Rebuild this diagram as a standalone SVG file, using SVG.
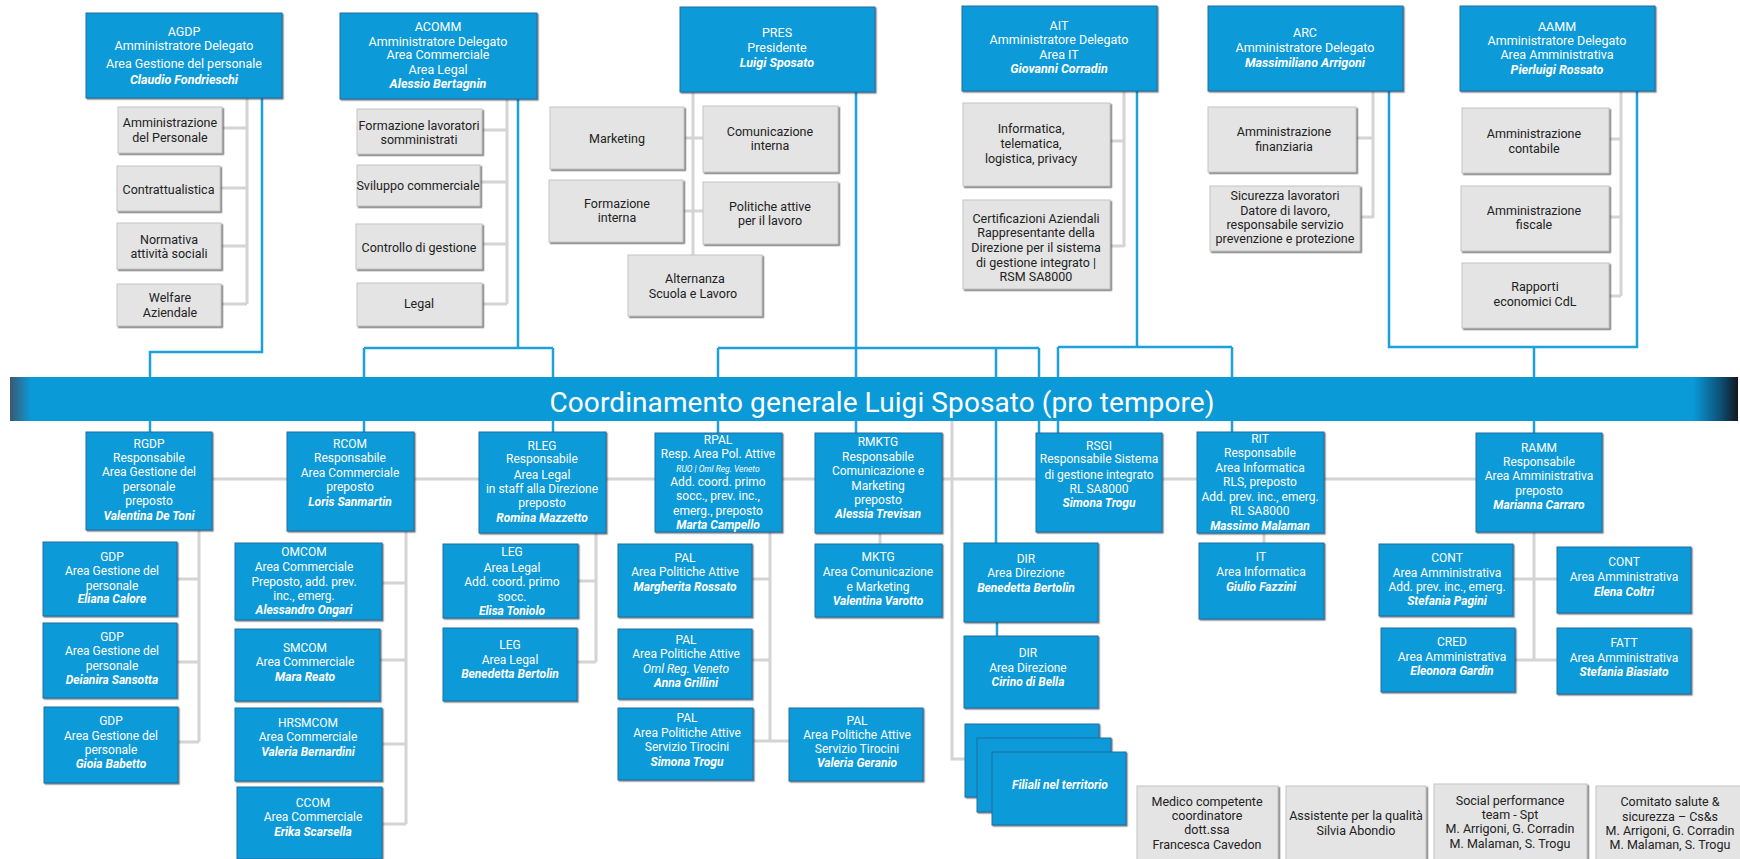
<svg xmlns="http://www.w3.org/2000/svg" width="1740" height="859" viewBox="0 0 1740 859">
<defs>
<linearGradient id="barg" x1="0" y1="0" x2="1" y2="0">
<stop offset="0" stop-color="#3c5870"/>
<stop offset="0.012" stop-color="#0a9ad8"/>
<stop offset="0.974" stop-color="#0a9ad8"/>
<stop offset="0.99" stop-color="#0d4f75"/>
<stop offset="1" stop-color="#111820"/>
</linearGradient>
<filter id="sh" x="-5%" y="-5%" width="115%" height="115%">
<feDropShadow dx="1.2" dy="1.2" stdDeviation="0.6" flood-color="#222" flood-opacity="0.55"/>
</filter>
<filter id="shg" x="-5%" y="-5%" width="115%" height="115%">
<feDropShadow dx="1.5" dy="1.5" stdDeviation="0.5" flood-color="#555" flood-opacity="0.8"/>
</filter>
</defs>
<style>
.b{fill:#0a9ad8;stroke:#1f6d9f;stroke-width:1;filter:url(#sh)}
.g{fill:#e4e4e4;stroke:#c4c4c4;stroke-width:1;filter:url(#shg)}
text{font-family:Roboto,"Liberation Sans",sans-serif;text-anchor:middle}
.tw{fill:#ffffff;font-size:12px}
.tw1{fill:#ffffff;font-size:12.5px}
.tg{fill:#222222;font-size:12.5px}
.n{font-weight:bold;font-style:italic}
.i{font-style:italic}
.sm{font-size:8.5px;font-style:italic}
.cb{fill:none;stroke:#1ea0dc;stroke-width:2.5}
.cg{fill:none;stroke:#d4d4d4;stroke-width:3}
</style>
<rect width="1740" height="859" fill="#ffffff"/>

<g id="connectors">
<path class="cg" d="M247,98V304M222,128H247M220,188H247M221,246H247M221,304H247"/>
<path class="cg" d="M507,99V304M482,130H507M480,182H507M482,244H507M482,304H507"/>
<path class="cg" d="M693,92V255M684,138H703M683,211H703"/>
<path class="cg" d="M1124,91V247M1110,141H1124M1110,246H1124"/>
<path class="cg" d="M1373,91V218M1356,138H1373M1360,217H1373"/>
<path class="cg" d="M1621,91V296M1609,139H1621M1609,217H1621M1609,296H1621"/>
<path class="cg" d="M212,479H1476"/>
<path class="cg" d="M199,530V742M177,579H199M177,662H199M178,742H199"/>
<path class="cg" d="M406,531V824M382,583H406M380,660H406M382,744H406M382,824H406"/>
<path class="cg" d="M596,533V662M578,581H596M577,662H596"/>
<path class="cg" d="M770,532V741M752,579H770M752,660H770M753,741H789"/>
<path class="cg" d="M880,533V544"/>
<path class="cg" d="M952,421V759H965"/>
<path class="cg" d="M1264,533V543"/>
<path class="cg" d="M1534,532V660M1513,579H1557M1515,660H1557"/>
<path class="cb" d="M262,98V352H150V377M150,421V432"/>
<path class="cb" d="M518,99V348M364,348H553M364,348V377M553,348V377M364,421V432M553,421V432"/>
<path class="cb" d="M856,92V377M718,348H1039M718,348V377M996,348V377M1039,348V377M718,421V433M856,421V433M996,421V543M1039,421V433M997,622V636"/>
<path class="cb" d="M1137,91V347M1058,347H1232M1058,347V377M1232,347V377M1058,421V433M1232,421V432"/>
<path class="cb" d="M1389,91V347H1637V91M1534,347V377M1534,421V433"/>
</g>

<g id="bar">
<rect x="10" y="377" width="1728" height="44" fill="url(#barg)"/>
<text x="882" y="412" fill="#ffffff" font-size="28" textLength="665">Coordinamento generale Luigi Sposato (pro tempore)</text>
</g>

<g id="AGDP"><rect class="b" x="86" y="13" width="196" height="85"/>
<text class="tw1"><tspan x="184" y="35.5">AGDP</tspan><tspan x="184" y="49.5">Amministratore Delegato</tspan><tspan x="184" y="67.5">Area Gestione del personale</tspan><tspan x="184" y="83.5" class="n">Claudio Fondrieschi</tspan></text></g>
<g id="ACOMM"><rect class="b" x="340" y="13" width="197" height="86"/>
<text class="tw1"><tspan x="438" y="30.5">ACOMM</tspan><tspan x="438" y="45.5">Amministratore Delegato</tspan><tspan x="438" y="58.5">Area Commerciale</tspan><tspan x="438" y="73.5">Area Legal</tspan><tspan x="438" y="87.5" class="n">Alessio Bertagnin</tspan></text></g>
<g id="PRES"><rect class="b" x="680" y="7" width="195" height="85"/>
<text class="tw1"><tspan x="777" y="36.5">PRES</tspan><tspan x="777" y="51.5">Presidente</tspan><tspan x="777" y="66.5" class="n">Luigi Sposato</tspan></text></g>
<g id="AIT"><rect class="b" x="962" y="6" width="195" height="85"/>
<text class="tw1"><tspan x="1059" y="29.5">AIT</tspan><tspan x="1059" y="43.5">Amministratore Delegato</tspan><tspan x="1059" y="58.5">Area IT</tspan><tspan x="1059" y="72.5" class="n">Giovanni Corradin</tspan></text></g>
<g id="ARC"><rect class="b" x="1208" y="6" width="195" height="85"/>
<text class="tw1"><tspan x="1305" y="36.5">ARC</tspan><tspan x="1305" y="51.5">Amministratore Delegato</tspan><tspan x="1305" y="66.5" class="n">Massimiliano Arrigoni</tspan></text></g>
<g id="AAMM"><rect class="b" x="1460" y="6" width="195" height="85"/>
<text class="tw1"><tspan x="1557" y="30.5">AAMM</tspan><tspan x="1557" y="44.5">Amministratore Delegato</tspan><tspan x="1557" y="58.5">Area Amministrativa</tspan><tspan x="1557" y="73.5" class="n">Pierluigi Rossato</tspan></text></g>

<g id="amm-personale"><rect class="g" x="118" y="107" width="104" height="46"/><text class="tg"><tspan x="170" y="126.5">Amministrazione</tspan><tspan x="170" y="141.5">del Personale</tspan></text></g>
<g id="contrattualistica"><rect class="g" x="117" y="166" width="103" height="45"/><text class="tg"><tspan x="168.5" y="193.5">Contrattualistica</tspan></text></g>
<g id="normativa"><rect class="g" x="117" y="223" width="104" height="46"/><text class="tg"><tspan x="169" y="243.5">Normativa</tspan><tspan x="169" y="257.5">attività sociali</tspan></text></g>
<g id="welfare"><rect class="g" x="117" y="284" width="104" height="42"/><text class="tg"><tspan x="170" y="301.5">Welfare</tspan><tspan x="170" y="316.5">Aziendale</tspan></text></g>

<g id="formazione-lav"><rect class="g" x="357" y="109" width="125" height="45"/><text class="tg"><tspan x="419" y="129.5">Formazione lavoratori</tspan><tspan x="419" y="143.5">somministrati</tspan></text></g>
<g id="sviluppo"><rect class="g" x="357" y="165" width="123" height="41"/><text class="tg"><tspan x="418" y="189.5">Sviluppo commerciale</tspan></text></g>
<g id="controllo"><rect class="g" x="356" y="224" width="126" height="45"/><text class="tg"><tspan x="419" y="251.5">Controllo di gestione</tspan></text></g>
<g id="legal"><rect class="g" x="357" y="283" width="125" height="43"/><text class="tg"><tspan x="419" y="307.5">Legal</tspan></text></g>

<g id="marketing"><rect class="g" x="550" y="107" width="134" height="62"/><text class="tg"><tspan x="617" y="142.5">Marketing</tspan></text></g>
<g id="com-interna"><rect class="g" x="703" y="106" width="135" height="66"/><text class="tg"><tspan x="770" y="135.5">Comunicazione</tspan><tspan x="770" y="149.5">interna</tspan></text></g>
<g id="form-interna"><rect class="g" x="549" y="180" width="134" height="62"/><text class="tg"><tspan x="617" y="207.5">Formazione</tspan><tspan x="617" y="221.5">interna</tspan></text></g>
<g id="politiche"><rect class="g" x="703" y="182" width="135" height="62"/><text class="tg"><tspan x="770" y="210.5">Politiche attive</tspan><tspan x="770" y="224.5">per il lavoro</tspan></text></g>
<g id="alternanza"><rect class="g" x="628" y="255" width="134" height="61"/><text class="tg"><tspan x="695" y="282.5">Alternanza</tspan><tspan x="693" y="297.5">Scuola e Lavoro</tspan></text></g>

<g id="informatica"><rect class="g" x="963" y="103" width="147" height="83"/><text class="tg"><tspan x="1031" y="132.5">Informatica,</tspan><tspan x="1031" y="147.5">telematica,</tspan><tspan x="1031" y="162.5">logistica, privacy</tspan></text></g>
<g id="certificazioni"><rect class="g" x="963" y="200" width="147" height="89"/><text class="tg"><tspan x="1036" y="222.5">Certificazioni Aziendali</tspan><tspan x="1036" y="236.5">Rappresentante della</tspan><tspan x="1036" y="251.5">Direzione per il sistema</tspan><tspan x="1036" y="266.5">di gestione integrato |</tspan><tspan x="1036" y="280.5">RSM SA8000</tspan></text></g>

<g id="amm-finanziaria"><rect class="g" x="1208" y="107" width="148" height="65"/><text class="tg"><tspan x="1284" y="135.5">Amministrazione</tspan><tspan x="1284" y="150.5">finanziaria</tspan></text></g>
<g id="sicurezza"><rect class="g" x="1210" y="186" width="150" height="65"/><text class="tg"><tspan x="1285" y="199.5">Sicurezza lavoratori</tspan><tspan x="1285" y="214.5">Datore di lavoro,</tspan><tspan x="1285" y="228.5">responsabile servizio</tspan><tspan x="1285" y="242.5">prevenzione e protezione</tspan></text></g>

<g id="amm-contabile"><rect class="g" x="1462" y="108" width="147" height="65"/><text class="tg"><tspan x="1534" y="137.5">Amministrazione</tspan><tspan x="1534" y="152.5">contabile</tspan></text></g>
<g id="amm-fiscale"><rect class="g" x="1461" y="186" width="148" height="65"/><text class="tg"><tspan x="1534" y="214.5">Amministrazione</tspan><tspan x="1534" y="228.5">fiscale</tspan></text></g>
<g id="rapporti"><rect class="g" x="1462" y="263" width="147" height="65"/><text class="tg"><tspan x="1535" y="290.5">Rapporti</tspan><tspan x="1535" y="305.5">economici CdL</tspan></text></g>

<g id="RGDP"><rect class="b" x="86" y="432" width="126" height="98"/>
<text class="tw"><tspan x="149" y="448.3">RGDP</tspan><tspan x="149" y="462.3">Responsabile</tspan><tspan x="149" y="476.3">Area Gestione del</tspan><tspan x="149" y="491.3">personale</tspan><tspan x="149" y="505.3">preposto</tspan><tspan x="149" y="520.3" class="n">Valentina De Toni</tspan></text></g>
<g id="RCOM"><rect class="b" x="287" y="432" width="127" height="99"/>
<text class="tw"><tspan x="350" y="448.3">RCOM</tspan><tspan x="350" y="462.3">Responsabile</tspan><tspan x="350" y="477.3">Area Commerciale</tspan><tspan x="350" y="491.3">preposto</tspan><tspan x="350" y="506.3" class="n">Loris Sanmartin</tspan></text></g>
<g id="RLEG"><rect class="b" x="479" y="432" width="127" height="101"/>
<text class="tw"><tspan x="542" y="450.3">RLEG</tspan><tspan x="542" y="463.3">Responsabile</tspan><tspan x="542" y="479.3">Area Legal</tspan><tspan x="542" y="493.3">in staff alla Direzione</tspan><tspan x="542" y="507.3">preposto</tspan><tspan x="542" y="522.3" class="n">Romina Mazzetto</tspan></text></g>
<g id="RPAL"><rect class="b" x="655" y="433" width="127" height="99"/>
<text class="tw"><tspan x="718" y="444.3">RPAL</tspan><tspan x="718" y="458.3">Resp. Area Pol. Attive</tspan><tspan x="718" y="472" class="sm">RUO | Oml Reg. Veneto</tspan><tspan x="718" y="486.3">Add. coord. primo</tspan><tspan x="718" y="500.3">socc., prev. inc.,</tspan><tspan x="718" y="515.3">emerg., preposto</tspan><tspan x="718" y="529.3" class="n">Marta Campello</tspan></text></g>
<g id="RMKTG"><rect class="b" x="815" y="433" width="127" height="100"/>
<text class="tw"><tspan x="878" y="446.3">RMKTG</tspan><tspan x="878" y="461.3">Responsabile</tspan><tspan x="878" y="475.3">Comunicazione e</tspan><tspan x="878" y="490.3">Marketing</tspan><tspan x="878" y="504.3">preposto</tspan><tspan x="878" y="518.3" class="n">Alessia Trevisan</tspan></text></g>
<g id="RSGI"><rect class="b" x="1036" y="433" width="126" height="99"/>
<text class="tw"><tspan x="1099" y="450.3">RSGI</tspan><tspan x="1099" y="463.3">Responsabile Sistema</tspan><tspan x="1099" y="479.3">di gestione integrato</tspan><tspan x="1099" y="493.3">RL SA8000</tspan><tspan x="1099" y="507.3" class="n">Simona Trogu</tspan></text></g>
<g id="RIT"><rect class="b" x="1197" y="432" width="127" height="101"/>
<text class="tw"><tspan x="1260" y="443.3">RIT</tspan><tspan x="1260" y="457.3">Responsabile</tspan><tspan x="1260" y="472.3">Area Informatica</tspan><tspan x="1260" y="486.3">RLS, preposto</tspan><tspan x="1260" y="501.3">Add. prev. inc., emerg.</tspan><tspan x="1260" y="515.3">RL SA8000</tspan><tspan x="1260" y="530.3" class="n">Massimo Malaman</tspan></text></g>
<g id="RAMM"><rect class="b" x="1476" y="433" width="126" height="99"/>
<text class="tw"><tspan x="1539" y="452.3">RAMM</tspan><tspan x="1539" y="466.3">Responsabile</tspan><tspan x="1539" y="480.3">Area Amministrativa</tspan><tspan x="1539" y="495.3">preposto</tspan><tspan x="1539" y="509.3" class="n">Marianna Carraro</tspan></text></g>

<g id="GDP1"><rect class="b" x="43" y="542" width="134" height="74"/>
<text class="tw"><tspan x="112" y="561.3">GDP</tspan><tspan x="112" y="575.3">Area Gestione del</tspan><tspan x="112" y="590.3">personale</tspan><tspan x="112" y="603.3" class="n">Eliana Calore</tspan></text></g>
<g id="GDP2"><rect class="b" x="43" y="623" width="134" height="75"/>
<text class="tw"><tspan x="112" y="641.3">GDP</tspan><tspan x="112" y="655.3">Area Gestione del</tspan><tspan x="112" y="670.3">personale</tspan><tspan x="112" y="684.3" class="n">Deianira Sansotta</tspan></text></g>
<g id="GDP3"><rect class="b" x="44" y="707" width="134" height="76"/>
<text class="tw"><tspan x="111" y="725.3">GDP</tspan><tspan x="111" y="740.3">Area Gestione del</tspan><tspan x="111" y="754.3">personale</tspan><tspan x="111" y="768.3" class="n">Gioia Babetto</tspan></text></g>

<g id="OMCOM"><rect class="b" x="235" y="543" width="147" height="77"/>
<text class="tw"><tspan x="304" y="556.3">OMCOM</tspan><tspan x="304" y="571.3">Area Commerciale</tspan><tspan x="304" y="586.3">Preposto, add. prev.</tspan><tspan x="304" y="600.3">inc., emerg.</tspan><tspan x="304" y="614.3" class="n">Alessandro Ongari</tspan></text></g>
<g id="SMCOM"><rect class="b" x="235" y="629" width="145" height="72"/>
<text class="tw"><tspan x="305" y="652.3">SMCOM</tspan><tspan x="305" y="666.3">Area Commerciale</tspan><tspan x="305" y="681.3" class="n">Mara Reato</tspan></text></g>
<g id="HRSMCOM"><rect class="b" x="235" y="708" width="147" height="73"/>
<text class="tw"><tspan x="308" y="727.3">HRSMCOM</tspan><tspan x="308" y="741.3">Area Commerciale</tspan><tspan x="308" y="756.3" class="n">Valeria Bernardini</tspan></text></g>
<g id="CCOM"><rect class="b" x="237" y="787" width="145" height="72"/>
<text class="tw"><tspan x="313" y="807.3">CCOM</tspan><tspan x="313" y="821.3">Area Commerciale</tspan><tspan x="313" y="836.3" class="n">Erika Scarsella</tspan></text></g>

<g id="LEG1"><rect class="b" x="443" y="544" width="135" height="74"/>
<text class="tw"><tspan x="512" y="556.3">LEG</tspan><tspan x="512" y="572.3">Area Legal</tspan><tspan x="512" y="586.3">Add. coord. primo</tspan><tspan x="512" y="601.3">socc.</tspan><tspan x="512" y="615.3" class="n">Elisa Toniolo</tspan></text></g>
<g id="LEG2"><rect class="b" x="443" y="628" width="134" height="73"/>
<text class="tw"><tspan x="510" y="649.3">LEG</tspan><tspan x="510" y="664.3">Area Legal</tspan><tspan x="510" y="678.3" class="n">Benedetta Bertolin</tspan></text></g>

<g id="PAL1"><rect class="b" x="618" y="544" width="134" height="73"/>
<text class="tw"><tspan x="685" y="562.3">PAL</tspan><tspan x="685" y="576.3">Area Politiche Attive</tspan><tspan x="685" y="591.3" class="n">Margherita Rossato</tspan></text></g>
<g id="PAL2"><rect class="b" x="618" y="629" width="134" height="70"/>
<text class="tw"><tspan x="686" y="644.3">PAL</tspan><tspan x="686" y="658.3">Area Politiche Attive</tspan><tspan x="686" y="673.3" class="i">Oml Reg. Veneto</tspan><tspan x="686" y="687.3" class="n">Anna Grillini</tspan></text></g>
<g id="PAL3"><rect class="b" x="618" y="708" width="135" height="72"/>
<text class="tw"><tspan x="687" y="722.3">PAL</tspan><tspan x="687" y="737.3">Area Politiche Attive</tspan><tspan x="687" y="751.3">Servizio Tirocini</tspan><tspan x="687" y="766.3" class="n">Simona Trogu</tspan></text></g>
<g id="PAL4"><rect class="b" x="789" y="708" width="134" height="73"/>
<text class="tw"><tspan x="857" y="725.3">PAL</tspan><tspan x="857" y="739.3">Area Politiche Attive</tspan><tspan x="857" y="753.3">Servizio Tirocini</tspan><tspan x="857" y="767.3" class="n">Valeria Geranio</tspan></text></g>

<g id="MKTG"><rect class="b" x="815" y="544" width="127" height="73"/>
<text class="tw"><tspan x="878" y="561.3">MKTG</tspan><tspan x="878" y="576.3">Area Comunicazione</tspan><tspan x="878" y="591.3">e Marketing</tspan><tspan x="878" y="605.3" class="n">Valentina Varotto</tspan></text></g>

<g id="DIR1"><rect class="b" x="964" y="543" width="134" height="79"/>
<text class="tw"><tspan x="1026" y="563.3">DIR</tspan><tspan x="1026" y="577.3">Area Direzione</tspan><tspan x="1026" y="592.3" class="n">Benedetta Bertolin</tspan></text></g>
<g id="DIR2"><rect class="b" x="964" y="636" width="134" height="72"/>
<text class="tw"><tspan x="1028" y="657.3">DIR</tspan><tspan x="1028" y="672.3">Area Direzione</tspan><tspan x="1028" y="686.3" class="n">Cirino di Bella</tspan></text></g>

<g id="filiali">
<rect class="b" x="965" y="724" width="134" height="73"/>
<rect class="b" x="977" y="738" width="134" height="74"/>
<rect class="b" x="992" y="752" width="134" height="73"/>
<text class="tw"><tspan x="1060" y="789.3" class="n">Filiali nel territorio</tspan></text></g>

<g id="IT"><rect class="b" x="1199" y="543" width="125" height="76"/>
<text class="tw"><tspan x="1261" y="561.3">IT</tspan><tspan x="1261" y="576.3">Area Informatica</tspan><tspan x="1261" y="591.3" class="n">Giulio Fazzini</tspan></text></g>

<g id="CONT1"><rect class="b" x="1379" y="544" width="134" height="72"/>
<text class="tw"><tspan x="1447" y="562.3">CONT</tspan><tspan x="1447" y="577.3">Area Amministrativa</tspan><tspan x="1447" y="591.3">Add. prev. inc., emerg.</tspan><tspan x="1447" y="605.3" class="n">Stefania Pagini</tspan></text></g>
<g id="CONT2"><rect class="b" x="1557" y="547" width="134" height="66"/>
<text class="tw"><tspan x="1624" y="566.3">CONT</tspan><tspan x="1624" y="581.3">Area Amministrativa</tspan><tspan x="1624" y="596.3" class="n">Elena Coltri</tspan></text></g>
<g id="CRED"><rect class="b" x="1381" y="628" width="134" height="64"/>
<text class="tw"><tspan x="1452" y="646.3">CRED</tspan><tspan x="1452" y="661.3">Area Amministrativa</tspan><tspan x="1452" y="675.3" class="n">Eleonora Gardin</tspan></text></g>
<g id="FATT"><rect class="b" x="1557" y="628" width="134" height="66"/>
<text class="tw"><tspan x="1624" y="647.3">FATT</tspan><tspan x="1624" y="662.3">Area Amministrativa</tspan><tspan x="1624" y="676.3" class="n">Stefania Biasiato</tspan></text></g>

<g id="medico"><rect class="g" x="1137" y="786" width="141" height="76"/><text class="tg"><tspan x="1207" y="805.5">Medico competente</tspan><tspan x="1207" y="819.5">coordinatore</tspan><tspan x="1207" y="833.5">dott.ssa</tspan><tspan x="1207" y="848.5">Francesca Cavedon</tspan></text></g>
<g id="assistente"><rect class="g" x="1286" y="786" width="140" height="76"/><text class="tg"><tspan x="1356" y="819.5">Assistente per la qualità</tspan><tspan x="1356" y="834.5">Silvia Abondio</tspan></text></g>
<g id="spt"><rect class="g" x="1434" y="784" width="153" height="78"/><text class="tg"><tspan x="1510" y="804.5">Social performance</tspan><tspan x="1510" y="818.5">team - Spt</tspan><tspan x="1510" y="832.5">M. Arrigoni, G. Corradin</tspan><tspan x="1510" y="847.5">M. Malaman, S. Trogu</tspan></text></g>
<g id="css"><rect class="g" x="1596" y="786" width="150" height="76"/><text class="tg"><tspan x="1670" y="805.5">Comitato salute &amp;</tspan><tspan x="1670" y="820.5">sicurezza – Cs&amp;s</tspan><tspan x="1670" y="834.5">M. Arrigoni, G. Corradin</tspan><tspan x="1670" y="848.5">M. Malaman, S. Trogu</tspan></text></g>
</svg>
